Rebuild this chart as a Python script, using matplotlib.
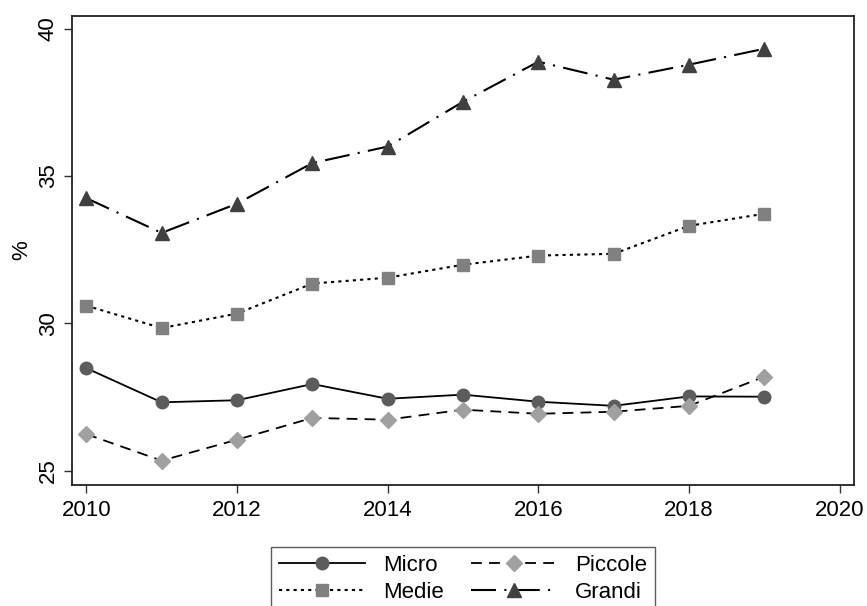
import matplotlib
matplotlib.use("Agg")
import matplotlib.pyplot as plt

plt.rcParams['font.family'] = ['Liberation Sans', 'DejaVu Sans']

anni = list(range(2010, 2020))
micro = [28.48, 27.32, 27.39, 27.94, 27.44, 27.58, 27.34, 27.20, 27.52, 27.51]
piccole = [26.24, 25.34, 26.05, 26.79, 26.73, 27.07, 26.93, 27.00, 27.20, 28.19]
medie = [30.60, 29.84, 30.33, 31.35, 31.55, 31.99, 32.30, 32.36, 33.31, 33.72]
grandi = [34.25, 33.07, 34.06, 35.44, 36.00, 37.52, 38.88, 38.27, 38.78, 39.32]

fig = plt.figure(figsize=(8.67, 6.06), dpi=100)
ax = fig.add_axes([0.083, 0.2, 0.902, 0.774])

ax.plot(anni, micro, color='black', lw=1.3, marker='o', ms=9,
        mfc='#5c5c5c', mec='#5c5c5c', label='Micro')
ax.plot(anni, medie, color='black', lw=1.5, ls=(0, (1.5, 2)), marker='s', ms=9,
        mfc='#808080', mec='#808080', label='Medie')
ax.plot(anni, piccole, color='black', lw=1.3, ls=(0, (6, 4)), marker='D', ms=8,
        mfc='#a0a0a0', mec='#a0a0a0', label='Piccole')
ax.plot(anni, grandi, color='black', lw=1.5, ls=(0, (12, 4, 1, 4)), marker='^', ms=10,
        mfc='#404040', mec='#404040', label='Grandi')

ax.set_xlim(2009.81, 2020.19)
ax.set_ylim(24.52, 40.44)
ax.set_xticks([2010, 2012, 2014, 2016, 2018, 2020])
ax.set_yticks([25, 30, 35, 40])
ax.tick_params(labelsize=16, length=6, width=1, color='#333333')
ax.tick_params(axis='x', pad=5)
for lab in ax.get_yticklabels():
    lab.set_rotation(90)
    lab.set_va('center')
ax.set_ylabel('%', fontsize=16, labelpad=4)
for s in ax.spines.values():
    s.set_color('#222222')
    s.set_linewidth(1.3)

h, l = ax.get_legend_handles_labels()
leg = fig.legend(h, l, loc='upper center', bbox_to_anchor=(0.534, 0.116), ncol=2,
                 fontsize=16, handlelength=3.9, frameon=True, fancybox=False,
                 borderpad=0.35, columnspacing=1.2, labelspacing=0.3, handletextpad=0.8)
leg.get_frame().set_edgecolor('#333333')
leg.get_frame().set_linewidth(1)

fig.savefig('out.png', dpi=100)
